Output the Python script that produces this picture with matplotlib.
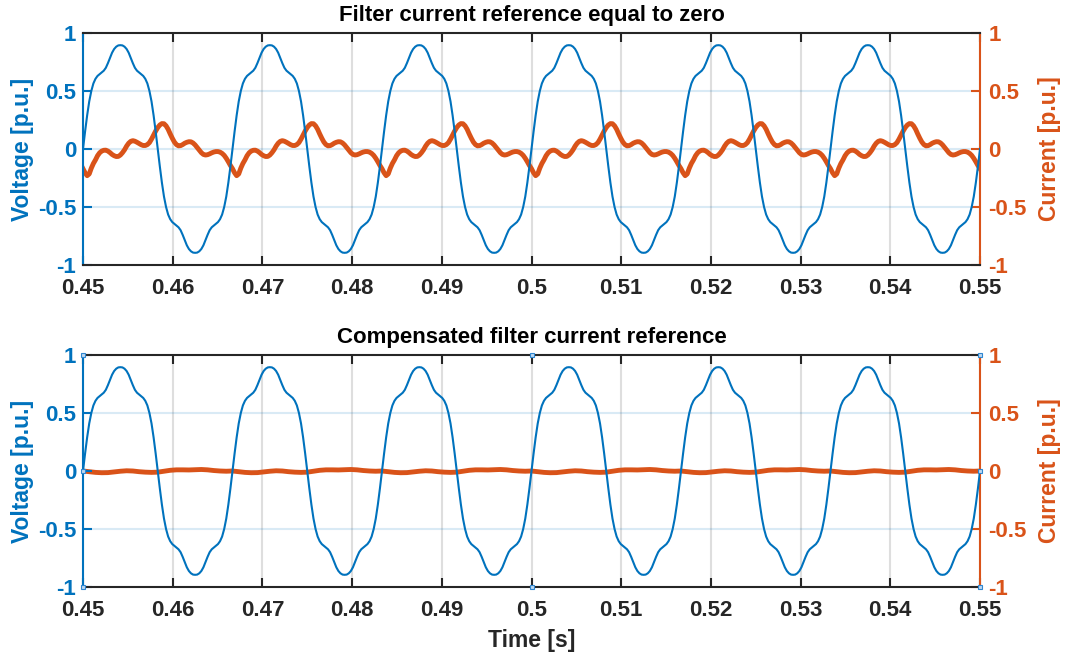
import numpy as np
import matplotlib
matplotlib.use('Agg')
import matplotlib.pyplot as plt

plt.rcParams['font.family'] = ['Liberation Sans', 'DejaVu Sans']
plt.rcParams['font.weight'] = 'bold'
plt.rcParams['axes.unicode_minus'] = False

BLUE = '#0072BD'
ORANGE = '#D95319'
DARK = '#262626'

# ---------------- data ----------------
t_start, t_end = 0.45, 0.55
n_periods = 6

# voltage, positive half cycle, 5 degree steps (0..175 deg)
voltage_half_cycle = [0.0, 0.15, 0.29, 0.41, 0.50, 0.565, 0.605, 0.63, 0.645,
                      0.66, 0.675, 0.70, 0.74, 0.785, 0.83, 0.862, 0.882, 0.893,
                      0.895, 0.893, 0.882, 0.862, 0.83, 0.785, 0.74, 0.70, 0.675,
                      0.66, 0.645, 0.63, 0.605, 0.565, 0.50, 0.41, 0.29, 0.15]

# filter current with zero reference, one cycle, 5 degree steps (0..355 deg)
current_zero_ref_cycle = [-0.17, -0.205, -0.23, -0.215, -0.165, -0.125, -0.094, -0.058,
                          -0.033, -0.018, -0.011, -0.010, -0.018, -0.031, -0.047, -0.058,
                          -0.065, -0.064, -0.052, -0.032, -0.007, 0.025, 0.05, 0.066,
                          0.072, 0.067, 0.058, 0.047, 0.037, 0.030, 0.030, 0.038,
                          0.055, 0.085, 0.12, 0.155, 0.185, 0.207, 0.219, 0.218,
                          0.20, 0.17, 0.13, 0.093, 0.06, 0.038, 0.027, 0.029,
                          0.038, 0.050, 0.058, 0.063, 0.062, 0.052, 0.035, 0.013,
                          -0.01, -0.032, -0.047, -0.052, -0.049, -0.042, -0.033, -0.026,
                          -0.022, -0.022, -0.027, -0.038, -0.055, -0.08, -0.11, -0.142]

# compensated filter current, one cycle, 15 degree steps (0..345 deg)
current_comp_cycle = [0.0, -0.006, -0.012, -0.015, -0.014, -0.008, -0.002, 0.002,
                      0.0, -0.006, -0.01, -0.012, -0.01, -0.002, 0.006, 0.01,
                      0.01, 0.009, 0.011, 0.013, 0.01, 0.004, 0.0, -0.002]

xticks = [0.45, 0.46, 0.47, 0.48, 0.49, 0.5, 0.51, 0.52, 0.53, 0.54, 0.55]
xtick_labels = ['0.45', '0.46', '0.47', '0.48', '0.49', '0.5', '0.51', '0.52',
                '0.53', '0.54', '0.55']
yticks = [-1, -0.5, 0, 0.5, 1]
ytick_labels = ['-1', '-0.5', '0', '0.5', '1']
grid_y = [-0.5, 0, 0.5]

titles = ['Filter current reference equal to zero',
          'Compensated filter current reference']
voltage_label = 'Voltage [p.u.]'
current_label = 'Current [p.u.]'
time_label = 'Time [s]'

# selection handles visible on the lower panel
handle_x = [0.45, 0.45, 0.45, 0.5, 0.5, 0.55, 0.55, 0.55]
handle_y = [-1, 0, 1, -1, 1, -1, 0, 1]

# ---------------- series construction ----------------
voltage_cycle = voltage_half_cycle + [-v for v in voltage_half_cycle]
volt = np.append(np.tile(voltage_cycle, n_periods), voltage_cycle[0])
t_v = np.linspace(t_start, t_end, len(volt))

cur1 = np.append(np.tile(current_zero_ref_cycle, n_periods), current_zero_ref_cycle[0])
t_c1 = np.linspace(t_start, t_end, len(cur1))

cur2 = np.append(np.tile(current_comp_cycle, n_periods), current_comp_cycle[0])
t_c2 = np.linspace(t_start, t_end, len(cur2))

fig = plt.figure(figsize=(10.67, 6.57), dpi=100)

W = 1067.0
H = 657.0
TICK_FS = 16
LABEL_FS = 16.5
TITLE_FS = 16


def panel(top_px, bottom_px, title, t_cur, cur, xlabel=None, handles=False):
    left_px, right_px = 83.0, 980.0
    ax = fig.add_axes([left_px / W, 1 - bottom_px / H,
                       (right_px - left_px) / W, (bottom_px - top_px) / H])
    ax2 = ax.twinx()
    ax.set_zorder(ax2.get_zorder() + 1)
    ax.patch.set_visible(False)

    # grid on the lower (right) axes
    for x in xticks:
        ax2.axvline(x, color=DARK, alpha=0.15, lw=1.5, zorder=0)
    for y in grid_y:
        ax2.axhline(y, color=BLUE, alpha=0.15, lw=1.5, zorder=0)

    ax2.plot(t_cur, cur, color=ORANGE, lw=3.5, solid_joinstyle='round', zorder=2)
    ax.plot(t_v, volt, color=BLUE, lw=1.5, zorder=3)

    for a in (ax, ax2):
        a.set_xlim(t_start, t_end)
        a.set_ylim(-1, 1)
        a.set_yticks(yticks)
        a.set_yticklabels(ytick_labels)
    ax.set_xticks(xticks)
    ax.set_xticklabels(xtick_labels)

    for s in ax2.spines.values():
        s.set_visible(False)
    ax.spines['left'].set_color(BLUE)
    ax.spines['right'].set_color(ORANGE)
    ax.spines['top'].set_color(DARK)
    ax.spines['bottom'].set_color(DARK)
    for s in ax.spines.values():
        s.set_linewidth(1.5)

    ax.tick_params(axis='x', direction='in', top=True, bottom=True, length=6.5,
                   width=1.5, color=DARK, labelcolor=DARK, labelsize=TICK_FS, pad=9)
    ax.tick_params(axis='y', direction='in', left=True, right=False, length=6.5,
                   width=1.5, color=BLUE, labelcolor=BLUE, labelsize=TICK_FS, pad=5)
    ax2.tick_params(axis='y', direction='in', length=6.5, width=1.5,
                    color=ORANGE, labelcolor=ORANGE, labelsize=TICK_FS, pad=6)

    ax.set_ylabel(voltage_label, color=BLUE, fontsize=LABEL_FS, fontweight='bold', labelpad=3)
    ax2.set_ylabel(current_label, color=ORANGE, fontsize=LABEL_FS, fontweight='bold', labelpad=8)
    ax.set_title(title, fontsize=TITLE_FS, fontweight='bold', color='black', pad=9)
    if xlabel:
        ax.set_xlabel(xlabel, fontsize=LABEL_FS, fontweight='bold', color=DARK, labelpad=6)
    if handles:
        ax.plot(handle_x, handle_y, ls='none', marker='s', markersize=3.5,
                markerfacecolor='#bcd7f0', markeredgecolor='#2e86d0',
                markeredgewidth=0.8, clip_on=False, zorder=10)
    return ax, ax2


panel(33, 265, titles[0], t_c1, cur1)
panel(355, 587, titles[1], t_c2, cur2, xlabel=time_label, handles=True)

fig.savefig('out.png', dpi=100, facecolor='white')
